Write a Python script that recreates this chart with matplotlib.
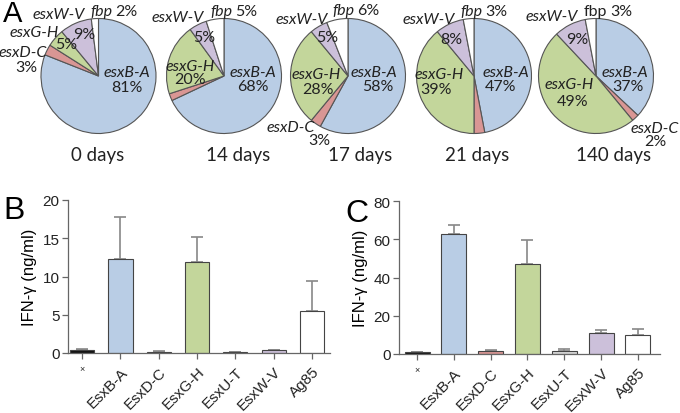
import numpy as np
import matplotlib
matplotlib.use('Agg')
import matplotlib.pyplot as plt
from matplotlib.transforms import ScaledTranslation

W, H = 680, 414

# pie data (clockwise from 12 o'clock)
genes = ['esxB-A', 'esxD-C', 'esxG-H', 'esxW-V', 'fbp']
days = ['0 days', '14 days', '17 days', '21 days', '140 days']
pct_0 = [81, 3, 5, 9, 2]
pct_14 = [68, 2, 20, 5, 5]
pct_17 = [58, 3, 28, 5, 6]
pct_21 = [47, 3, 39, 8, 3]
pct_140 = [37, 2, 49, 9, 3]
pies = [pct_0, pct_14, pct_17, pct_21, pct_140]

# bar data
antigens = ['×', 'EsxB-A', 'EsxD-C', 'EsxG-H', 'EsxU-T', 'EsxW-V', 'Ag85']
ifn_b = [0.35, 12.3, 0.15, 11.9, 0.1, 0.35, 5.45]
err_b = [0.2, 5.5, 0.1, 3.2, 0.05, 0.05, 3.9]
ifn_c = [1.0, 63.0, 1.7, 47.0, 1.7, 11.0, 9.8]
err_c = [0.3, 4.7, 0.5, 12.5, 1.1, 1.5, 3.5]

pie_cols = ['#b9cde5', '#d99694', '#c3d69b', '#ccc0da', '#ffffff']
bar_cols = ['#111111', '#b9cde5', '#d99694', '#c3d69b', '#d9d9d9', '#ccc0da', '#ffffff']

PIE_FONT = 'Lato'
AX_FONT = 'Liberation Sans'
plt.rcParams['font.family'] = [AX_FONT, 'DejaVu Sans']

fig = plt.figure(figsize=(W / 100, H / 100), dpi=100)


def px(x, y):
    return x / W, 1 - y / H


# ---- panel A : pies
centers = [(98.5, 77), (224, 77), (348, 77), (474, 77), (596, 77)]
R = 57.5
pad = 2
for (cx, cy), vals in zip(centers, pies):
    ax = fig.add_axes([(cx - R - pad) / W, 1 - (cy + R + pad) / H,
                       2 * (R + pad) / W, 2 * (R + pad) / H])
    ax.pie(vals, colors=pie_cols, startangle=90, counterclock=False,
           wedgeprops=dict(edgecolor='#555555', linewidth=0.8))
    lim = (R + pad) / R
    ax.set_xlim(-lim, lim)
    ax.set_ylim(-lim, lim)
    ax.set_aspect('auto')
    ax.axis('off')

caption_x = [98, 238, 360, 477, 614]
for x, d in zip(caption_x, days):
    fig.text(*px(x, 155), d, ha='center', va='center', fontsize=13.5,
             family=PIE_FONT, color='#222222')


def lab(x, y, s, italic=True, ha='center'):
    fig.text(*px(x, y), s, ha=ha, va='center', fontsize=11.5, family=PIE_FONT,
             style='italic' if italic else 'normal', color='#222222')


def name_pct(x, y, name, p, italic=True):
    # italic gene name followed by an upright percentage
    lab(x, y, name, italic, ha='right')
    lab(x + 3, y, p, False, ha='left')


# 0 days
lab(59, 15, genes[3]); name_pct(112, 12, genes[4], '2%')
lab(34, 33, genes[2]); lab(66, 45, '5%', False); lab(84, 35, '9%', False)
lab(23, 53, genes[1]); lab(26, 68, '3%', False)
lab(127, 73, genes[0]); lab(127, 88, '81%', False)
# 14 days
lab(178, 18, genes[3]); name_pct(232, 12, genes[4], '5%')
lab(204, 38, '5%', False)
lab(190, 67, genes[2]); lab(190, 80, '20%', False)
lab(253, 73, genes[0]); lab(253, 87, '68%', False)
# 17 days
lab(302, 20, genes[3]); name_pct(354, 11, genes[4], '6%')
lab(327, 38, '5%', False)
lab(316, 75, genes[2]); lab(318, 90, '28%', False)
lab(374, 73, genes[0]); lab(378, 87, '58%', False)
lab(291, 128, genes[1]); lab(319, 141, '3%', False)
# 21 days
lab(429, 20, genes[3]); name_pct(482, 12, genes[4], '3%')
lab(451, 40, '8%', False)
lab(439, 75, genes[2]); lab(436, 90, '39%', False)
lab(506, 73, genes[0]); lab(501, 87, '47%', False)
# 140 days
lab(552, 17, genes[3]); name_pct(607, 12, 'fbp', '3%', italic=False)
lab(577, 40, '9%', False)
lab(569, 85, genes[2]); lab(573, 102, '49%', False)
lab(625, 73, genes[0]); lab(628, 87, '37%', False)
lab(655, 129, genes[1]); lab(655, 142, '2%', False)

# panel letters
fig.text(*px(3, 0), 'A', fontsize=21, va='top', ha='left')
fig.text(*px(3, 211), 'B', fontsize=23, va='center', ha='left')
fig.text(*px(345, 214), 'C', fontsize=23, va='center', ha='left')


# ---- panels B and C : bars
def bar_panel(rect, vals, errs, ymax, step, xlim, width):
    ax = fig.add_axes(rect)
    x = np.arange(len(antigens))
    ax.bar(x, vals, width=width, color=bar_cols, edgecolor='#444444',
           linewidth=0.8, zorder=2)
    ax.errorbar(x, vals, yerr=[np.zeros(len(vals)), errs], fmt='none',
                ecolor='#888888', elinewidth=1.2, capsize=4, capthick=1.2, zorder=1)
    ax.set_xlim(*xlim)
    ax.set_ylim(0, ymax)
    ax.set_yticks(np.arange(0, ymax + 1, step))
    ax.set_xticks(x)
    ax.set_xticklabels(antigens, rotation=45, ha='right', rotation_mode='anchor',
                       fontsize=11)
    shift = ScaledTranslation(4 / 72, 0, fig.dpi_scale_trans)
    for t in ax.get_xticklabels()[1:]:
        t.set_transform(t.get_transform() + shift)
    first = ax.get_xticklabels()[0]
    first.set_rotation(0)
    first.set_ha('center')
    first.set_fontsize(6.5)
    first.set_color('#555555')
    for t in ax.get_yticklabels():
        t.set_fontsize(11)
    ax.set_ylabel('IFN-γ (ng/ml)', fontsize=12, labelpad=4)
    for s in ('top', 'right'):
        ax.spines[s].set_visible(False)
    for s in ('left', 'bottom'):
        ax.spines[s].set_color('#666666')
        ax.spines[s].set_linewidth(0.9)
    ax.tick_params(colors='#666666', length=4, width=0.9, labelcolor='#222222', pad=2)
    ax.tick_params(axis='x', pad=4)
    return ax


bar_panel([68 / W, 1 - 354 / H, (330 - 68) / W, (354 - 201) / H],
          ifn_b, err_b, 20, 5, (-0.37, 6.47), 0.63)
bar_panel([399 / W, 1 - 355 / H, (660 - 399) / W, (355 - 202) / H],
          ifn_c, err_c, 80, 20, (-0.49, 6.6), 0.68)

fig.savefig('out.png', dpi=100)
